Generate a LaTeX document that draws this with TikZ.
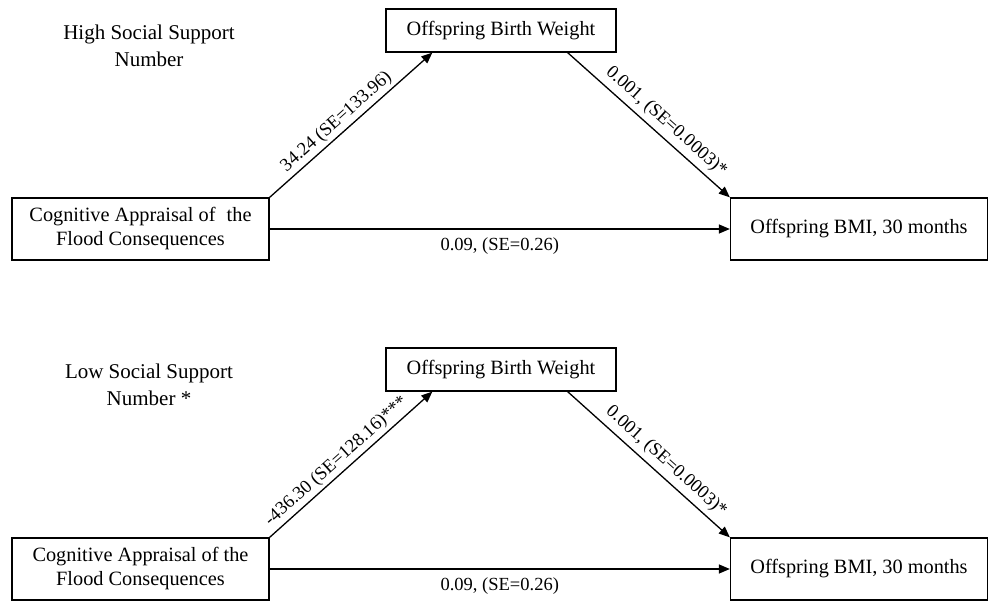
\documentclass[tikz,border=0pt]{standalone}
\usepackage{fontspec}
\setmainfont{Liberation Serif}
\usetikzlibrary{arrows.meta}
\begin{document}
\begin{tikzpicture}[x=1pt,y=-1pt,
  box/.style={draw,line width=1.3pt,align=center,inner sep=0pt,font=\fontsize{20.3}{24}\selectfont},
  wide/.style={box,minimum width=257pt,minimum height=62pt},
  mid/.style={box,minimum width=230pt,minimum height=43pt},
  arr/.style={line width=1.3pt,-{Triangle[length=11pt,width=9pt]}},
  lbl/.style={font=\fontsize{18.5}{21}\selectfont,inner sep=3pt},
  title/.style={align=center,font=\fontsize{21}{27}\selectfont}]
\useasboundingbox (0,0) rectangle (988,601);
% top panel
\node[title] (t1) at (149,46) {High Social Support\\Number};
\node[wide] (cog1) at (140.5,229) {Cognitive Appraisal of\hspace{0.3em} the\\Flood Consequences};
\node[mid] (bw1) at (501,30.5) {Offspring Birth Weight};
\node[wide] (bmi1) at (859,229) {Offspring BMI, 30 months};
\draw[arr] (cog1.north east) -- node[lbl,sloped,above,pos=0.46] {34.24 (SE=133.96)} ([xshift=47pt]bw1.south west);
\draw[arr] ([xshift=-49pt]bw1.south east) -- node[lbl,sloped,above=2pt,pos=0.55] {0.001, (SE=0.0003)*} (bmi1.north west);
\draw[arr] (cog1.east) -- node[lbl,below=5pt] {0.09, (SE=0.26)} (bmi1.west);
% bottom panel
\node[title] (t2) at (149,385) {Low Social Support\\Number *};
\node[wide] (cog2) at (140.5,569) {Cognitive Appraisal of the\\Flood Consequences};
\node[mid] (bw2) at (501,369.5) {Offspring Birth Weight};
\node[wide] (bmi2) at (859,569) {Offspring BMI, 30 months};
\draw[arr] (cog2.north east) -- node[lbl,sloped,above,pos=0.46] {-436.30 (SE=128.16)***} ([xshift=47pt]bw2.south west);
\draw[arr] ([xshift=-49pt]bw2.south east) -- node[lbl,sloped,above=2pt,pos=0.55] {0.001, (SE=0.0003)*} (bmi2.north west);
\draw[arr] (cog2.east) -- node[lbl,below=5pt] {0.09, (SE=0.26)} (bmi2.west);
\end{tikzpicture}
\end{document}
